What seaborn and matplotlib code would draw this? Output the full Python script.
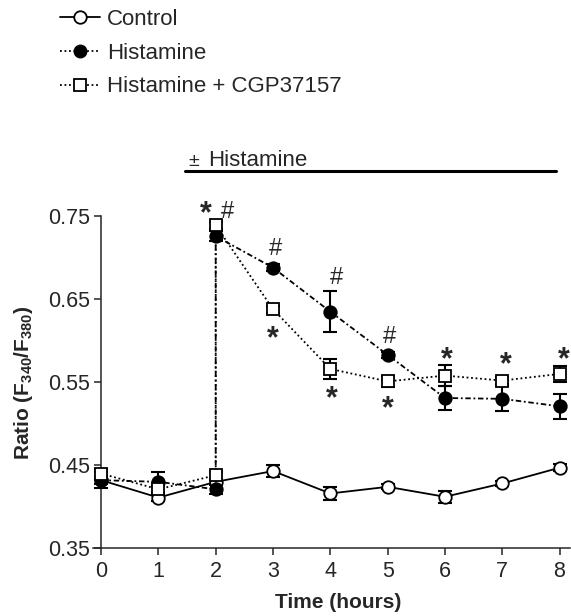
import numpy as np
import matplotlib
matplotlib.use("Agg")
import matplotlib.pyplot as plt
import seaborn as sns
from matplotlib.lines import Line2D

# values
hours_control = [0, 1, 2, 3, 4, 5, 6, 7, 8]
control = [0.432, 0.411, 0.430, 0.443, 0.416, 0.424, 0.412, 0.428, 0.447]
control_err = [0.005, 0.004, 0.004, 0.007, 0.008, 0.003, 0.007, 0.003, 0.004]

# histamine added at 2 h: two readings at x = 2 (before / after)
hours_hist = [0, 1, 2, 2, 3, 4, 5, 6, 7, 8]
histamine = [0.432, 0.430, 0.421, 0.726, 0.688, 0.635, 0.583, 0.531, 0.530, 0.521]
histamine_err = [0.010, 0.012, 0.006, 0.006, 0.004, 0.025, 0.004, 0.015, 0.015, 0.015]
cgp = [0.440, 0.421, 0.438, 0.739, 0.638, 0.566, 0.551, 0.558, 0.552, 0.560]
cgp_err = [0.006, 0.004, 0.004, 0.004, 0.004, 0.012, 0.007, 0.013, 0.004, 0.010]

series_names = ["Control", "Histamine", "Histamine + CGP37157"]
yticks = [0.35, 0.45, 0.55, 0.65, 0.75]
xticks = [0, 1, 2, 3, 4, 5, 6, 7, 8]

# significance marks (symbol, x, y)
marks = [("*", 1.83, 0.760), ("#", 2.20, 0.755), ("#", 3.05, 0.711), ("*", 3.00, 0.610),
         ("#", 4.10, 0.676), ("*", 4.02, 0.538), ("#", 5.03, 0.604), ("*", 5.00, 0.525),
         ("*", 6.03, 0.585), ("*", 7.07, 0.578), ("*", 8.08, 0.585)]

sns.set_style("ticks")
plt.rcParams['font.family'] = ['Liberation Sans', 'DejaVu Sans']
plt.rcParams['mathtext.fontset'] = 'custom'
plt.rcParams['mathtext.rm'] = 'Liberation Sans'
plt.rcParams['mathtext.bf'] = 'Liberation Sans:bold'

fig = plt.figure(figsize=(5.71, 6.16), dpi=100)
ax = fig.add_axes([0.162, 0.110, 0.836, 0.539])

hist_ls = (0, (3, 1.5, 1, 1.5))
cgp_ls = (0, (1, 1.5))
ms = 9

sns.lineplot(x=hours_control, y=control, estimator=None, sort=False, ax=ax, color="black",
             linewidth=1.3, marker="o", markersize=ms, markerfacecolor="white",
             markeredgecolor="black", markeredgewidth=1.3, clip_on=False, zorder=4)
sns.lineplot(x=hours_hist, y=histamine, estimator=None, sort=False, ax=ax, color="black",
             linewidth=1.3, linestyle=hist_ls, marker="o", markersize=ms, markerfacecolor="black",
             markeredgecolor="black", markeredgewidth=1.3, clip_on=False, zorder=5)
sns.lineplot(x=hours_hist, y=cgp, estimator=None, sort=False, ax=ax, color="black",
             linewidth=1.3, linestyle=cgp_ls, marker="s", markersize=ms, markerfacecolor="white",
             markeredgecolor="black", markeredgewidth=1.3, clip_on=False, zorder=6)

for xs, ys, es in [(hours_control, control, control_err), (hours_hist, histamine, histamine_err),
                   (hours_hist, cgp, cgp_err)]:
    ax.errorbar(xs, ys, yerr=es, fmt="none", ecolor="black", elinewidth=1.5,
                capsize=5, capthick=1.5, zorder=3, clip_on=False)

for sym, mx, my in marks:
    if sym == "*":
        # the asterisk glyph sits high in its box, so nudge it down
        ax.text(mx, my - 0.008, sym, fontsize=22, fontweight="bold", ha="center", va="center",
                clip_on=False)
    else:
        ax.text(mx, my, sym, fontsize=17, ha="center", va="center", clip_on=False)

# treatment bar
ax.plot([1.46, 7.94], [0.805, 0.805], color="black", linewidth=2.2, clip_on=False)
ax.text(1.52, 0.810, "\u00b1", fontsize=14, ha="left", va="baseline", clip_on=False)
ax.text(1.86, 0.810, "Histamine", fontsize=16, ha="left", va="baseline", clip_on=False)

ax.set_xlim(-0.15, 8.18)
ax.set_ylim(0.35, 0.75)
ax.spines["left"].set_position(("data", 0))
ax.spines["left"].set_bounds(0.35, 0.75)
sns.despine(ax=ax)
for s in ["left", "bottom"]:
    ax.spines[s].set_linewidth(1.1)
ax.set_xticks(xticks)
ax.set_yticks(yticks)
ax.set_yticklabels([f"{v:.2f}" for v in yticks])
ax.tick_params(axis="both", direction="out", length=5, width=1.1, labelsize=15.5, pad=3)
ax.tick_params(axis="x", pad=4)

ax.set_xlabel("Time (hours)", fontsize=15, fontweight="bold")
ax.set_ylabel(r"Ratio (F$_{\mathbf{340}}$/F$_{\mathbf{380}}$)", fontsize=15, fontweight="bold")
ax.xaxis.set_label_coords(0.514, -0.136)
ax.yaxis.set_label_coords(-0.12, 0.50)

handles = [
    Line2D([], [], color="black", linewidth=1.3, marker="o", markersize=9,
           markerfacecolor="white", markeredgecolor="black", markeredgewidth=1.3),
    Line2D([], [], color="black", linewidth=1.3, linestyle=(0, (1, 1.5)), marker="o", markersize=9,
           markerfacecolor="black", markeredgecolor="black"),
    Line2D([], [], color="black", linewidth=1.3, linestyle=(0, (1, 1.5)), marker="s", markersize=9,
           markerfacecolor="white", markeredgecolor="black", markeredgewidth=1.3),
]
fig.legend(handles, series_names, loc="upper left", bbox_to_anchor=(60 / 571, 1 - 9 / 616),
           frameon=False, fontsize=16, handlelength=1.8, handletextpad=0.32,
           labelspacing=0.57, borderpad=0, borderaxespad=0)

fig.savefig("out.png", dpi=100)
